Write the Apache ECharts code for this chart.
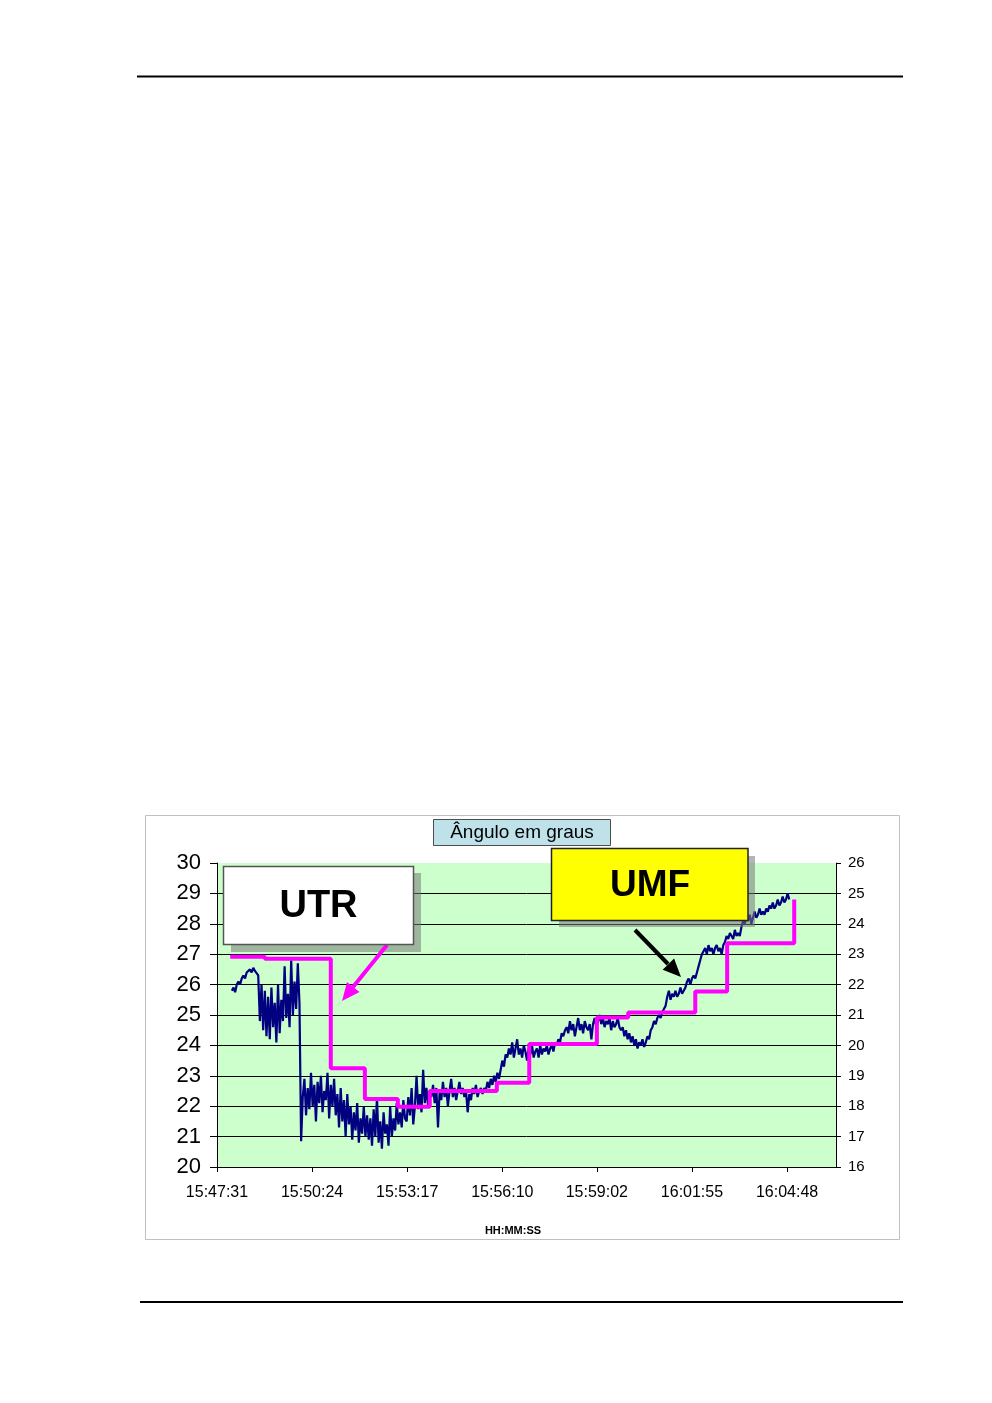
<!DOCTYPE html>
<html>
<head>
<meta charset="utf-8">
<title>Ângulo em graus</title>
<script src="https://cdn.jsdelivr.net/npm/echarts@6/dist/echarts.min.js"></script>
<style>
  html, body { margin: 0; padding: 0; background: #fff; }
  #main { width: 992px; height: 1403px; }
</style>
</head>
<body>
<div id="main"></div>
<script>
// tick labels of the time axis (HH:MM:SS)
let xTickLabels = ['15:47:31', '15:50:24', '15:53:17', '15:56:10', '15:59:02', '16:01:55', '16:04:48']
let leftTicks = { min: 20, max: 30 }
let rightTicks = { min: 16, max: 26 }
let axisEnd = 1126 // seconds after 15:47:31 at the right edge of the plot

// blue series: angle (left axis), one sample every 3 s starting 27 s after 15:47:31
let blueStart = 27
let blueStep = 3
let blueValues = [
  25.8, 25.9, 25.75, 26.0, 26.1, 26.0, 26.2, 26.3, 26.2, 26.4, 26.35, 26.5, 26.4, 26.55, 26.45, 26.5,
  26.3, 24.8, 26.0, 24.5, 25.8, 24.3, 25.6, 24.2, 25.9, 24.6,
  25.4, 24.1, 26.0, 24.4, 25.5, 24.8, 26.6, 24.9, 25.7, 24.6,
  26.8, 25.0, 26.1, 25.2, 26.7, 25.4,
  20.85,
  22.3, 22.9, 21.7, 22.6, 21.9, 23.1, 22.0, 22.7, 21.5, 22.8,
  22.1, 23.0, 21.8, 22.5, 22.2, 23.1, 21.6, 22.7, 22.0, 22.9,
  21.7, 22.4, 21.3, 22.6, 21.5, 22.2, 21.0, 22.4, 21.4, 22.0,
  20.9, 21.8, 21.2, 22.1, 20.8, 21.6, 21.1, 22.0, 21.0, 21.7, 20.9,
  21.6, 20.7, 21.9, 21.0, 22.3, 20.8, 21.5, 20.6, 21.8, 21.1,
  21.4, 20.7, 22.0, 21.0, 21.6, 21.2, 22.1, 21.4, 21.8, 21.3, 22.2, 21.6,
  21.5, 22.3, 21.7, 22.6, 21.4, 22.0, 23.0, 21.9, 22.4, 21.8, 23.2, 22.1, 22.6, 22.0, 22.5,
  22.3, 22.7, 22.1, 22.6, 21.3, 22.5, 22.2, 22.8, 22.3, 22.6,
  22.0, 22.5, 22.9, 22.3, 22.6, 22.2, 22.5, 22.8, 22.4, 22.6,
  22.3, 22.5, 21.8, 22.4, 22.2, 22.6, 22.4, 22.7, 22.3, 22.5, 22.6, 22.4,
  22.6, 22.5, 22.8, 22.6, 22.9, 22.7, 23.0, 22.8, 23.1, 22.9,
  23.2, 23.5, 23.3, 23.7, 23.6, 23.9,
  23.7, 24.1, 23.6, 23.9, 24.2, 23.7, 23.9, 23.6, 24.0, 23.8,
  23.5, 23.9, 23.7, 24.0, 23.6, 23.8, 23.9, 23.6, 24.0, 23.7,
  23.9, 23.8, 24.0, 23.7, 23.9, 24.0, 23.8, 24.1,
  24.0, 24.2, 24.1, 24.4, 24.3, 24.5,
  24.6, 24.4, 24.8, 24.5, 24.7, 24.3, 24.6, 24.9, 24.5, 24.7, 24.4, 24.8, 24.6, 24.5, 24.7, 24.2,
  24.7, 24.9, 24.6, 24.8, 25.0, 24.7, 24.9, 24.6, 24.8, 24.7, 24.9, 24.5, 24.8, 24.6, 24.7, 24.9, 24.6, 24.5,
  24.6, 24.3, 24.5, 24.2, 24.4, 24.1, 24.3, 24.0, 24.2, 23.9, 24.1, 24.0, 24.2, 23.95,
  24.1, 24.3, 24.2, 24.5, 24.6, 24.8, 24.7, 24.9, 25.0, 24.9, 25.1, 25.2,
  25.3, 25.6, 25.8, 25.5, 25.7, 25.6, 25.8, 25.6, 25.7, 25.9, 25.7, 25.8,
  25.9, 26.1, 26.2, 26.0, 26.2, 26.3, 26.2, 26.4, 26.6, 26.8, 27.0,
  27.1, 27.2, 27.0, 27.3, 27.1, 27.2, 27.0, 27.2, 27.3, 27.1, 27.2, 27.0, 27.3,
  27.4, 27.6, 27.5, 27.7, 27.6, 27.5, 27.8, 27.6, 27.7, 27.6,
  27.9, 28.1, 28.0, 28.2, 28.1, 28.3, 28.0, 28.2, 28.4, 28.2, 28.3, 28.5, 28.3, 28.4, 28.3,
  28.5, 28.4, 28.6, 28.5, 28.7, 28.5, 28.6, 28.8, 28.6, 28.7, 28.9, 28.7, 28.8, 29.0, 28.8
]

// magenta step series (right axis): time of each level change (s) and its level
let stepTimes = [24, 87, 207, 269, 329, 387, 509, 568, 691, 748, 870, 928, 1050]
let stepValues = [22.92, 22.85, 19.25, 18.24, 17.98, 18.5, 18.77, 20.05, 20.92, 21.08, 21.77, 23.36, 24.8]

function toSec (s) {
  let p = s.split(':').map(Number)
  return p[0] * 3600 + p[1] * 60 + p[2]
}
let t0 = toSec(xTickLabels[0])
let xTickValues = xTickLabels.map(s => toSec(s) - t0)

let blueData = blueValues.map((v, i) => [blueStart + i * blueStep, v])
let stepData = stepTimes.map((t, i) => [t, stepValues[i]])

let font = 'Liberation Sans, Arial, sans-serif'
let myChart = echarts.init(document.getElementById('main'))
myChart.setOption({
  backgroundColor: '#fff',
  animation: false,
  grid: {
    left: 217,
    top: 863,
    width: 619,
    height: 304,
    show: true,
    backgroundColor: '#ccffcc',
    borderWidth: 0
  },
  xAxis: {
    type: 'value',
    min: 0,
    max: axisEnd,
    axisLine: { show: true, onZero: false, lineStyle: { color: '#000', width: 1 } },
    axisTick: { show: true, customValues: xTickValues, length: 5, lineStyle: { color: '#000' } },
    axisLabel: {
      customValues: xTickValues,
      margin: 18,
      fontSize: 16,
      fontFamily: font,
      color: '#000',
      formatter: v => xTickLabels[xTickValues.indexOf(v)] || ''
    },
    splitLine: { show: false }
  },
  yAxis: [
    {
      type: 'value',
      min: leftTicks.min,
      max: leftTicks.max,
      interval: 1,
      axisLine: { show: true, lineStyle: { color: '#000', width: 1 } },
      axisTick: { show: true, length: 7, lineStyle: { color: '#000' } },
      axisLabel: { margin: 16, fontSize: 22, fontFamily: font, color: '#000' },
      splitLine: { show: true, showMaxLine: false, lineStyle: { color: '#000', width: 1 } }
    },
    {
      type: 'value',
      position: 'right',
      min: rightTicks.min,
      max: rightTicks.max,
      interval: 1,
      axisLine: { show: true, lineStyle: { color: '#000', width: 1 } },
      axisTick: { show: true, length: 5, lineStyle: { color: '#000' } },
      axisLabel: { margin: 12, fontSize: 15, fontFamily: font, color: '#000' },
      splitLine: { show: false }
    }
  ],
  series: [
    {
      type: 'line',
      yAxisIndex: 0,
      data: blueData,
      showSymbol: false,
      lineStyle: { color: '#000080', width: 2.2 },
      z: 2
    },
    {
      type: 'line',
      yAxisIndex: 1,
      step: 'end',
      data: stepData,
      showSymbol: false,
      lineStyle: { color: '#ff00ff', width: 4 },
      z: 3
    }
  ],
  graphic: [
    // page rules
    { type: 'rect', shape: { x: 137, y: 75.5, width: 766, height: 2 }, style: { fill: '#000' } },
    { type: 'rect', shape: { x: 140, y: 1301, width: 763, height: 2 }, style: { fill: '#000' } },
    // chart frame
    { type: 'rect', z: -1, shape: { x: 145.5, y: 815.5, width: 754, height: 424 }, style: { fill: 'none', stroke: '#c0c0c0', lineWidth: 1 } },
    // title box
    { type: 'rect', z: 100, shape: { x: 433.5, y: 819.5, width: 177, height: 26 }, style: { fill: '#bfe1e9', stroke: '#4d4d4d', lineWidth: 1 } },
    { type: 'text', z: 101, x: 522, y: 833, style: { text: 'Ângulo em graus', font: '19px ' + font, fill: '#000', align: 'center', verticalAlign: 'middle' } },
    // UTR callout
    { type: 'rect', z: 100, shape: { x: 231, y: 873, width: 190, height: 79 }, style: { fill: 'rgba(120,120,120,0.55)' } },
    { type: 'rect', z: 101, shape: { x: 223.5, y: 866.5, width: 190, height: 78 }, style: { fill: '#fff', stroke: '#555', lineWidth: 1.5 } },
    { type: 'text', z: 102, x: 318.5, y: 907, style: { text: 'UTR', font: 'bold 38px ' + font, fill: '#000', align: 'center', verticalAlign: 'middle' } },
    { type: 'line', z: 100, shape: { x1: 387, y1: 945, x2: 353, y2: 987 }, style: { stroke: '#ff00ff', lineWidth: 4 } },
    { type: 'polygon', z: 100, shape: { points: [[342, 1001], [359.5, 992], [347, 982]] }, style: { fill: '#ff00ff' } },
    // UMF callout
    { type: 'rect', z: 100, shape: { x: 559, y: 856, width: 196, height: 71 }, style: { fill: 'rgba(120,120,120,0.55)' } },
    { type: 'rect', z: 101, shape: { x: 551.5, y: 848.5, width: 196.5, height: 72 }, style: { fill: '#ffff00', stroke: '#222', lineWidth: 1.5 } },
    { type: 'text', z: 102, x: 650, y: 886, style: { text: 'UMF', font: 'bold 37px ' + font, fill: '#000', align: 'center', verticalAlign: 'middle' } },
    { type: 'line', z: 100, shape: { x1: 635, y1: 930, x2: 668, y2: 964 }, style: { stroke: '#000', lineWidth: 4 } },
    { type: 'polygon', z: 100, shape: { points: [[681, 977], [662.7, 969.7], [674.1, 958.5]] }, style: { fill: '#000' } },
    // axis title
    { type: 'text', z: 100, x: 513, y: 1231, style: { text: 'HH:MM:SS', font: 'bold 11px ' + font, fill: '#000', align: 'center', verticalAlign: 'middle' } }
  ]
})
</script>
</body>
</html>
